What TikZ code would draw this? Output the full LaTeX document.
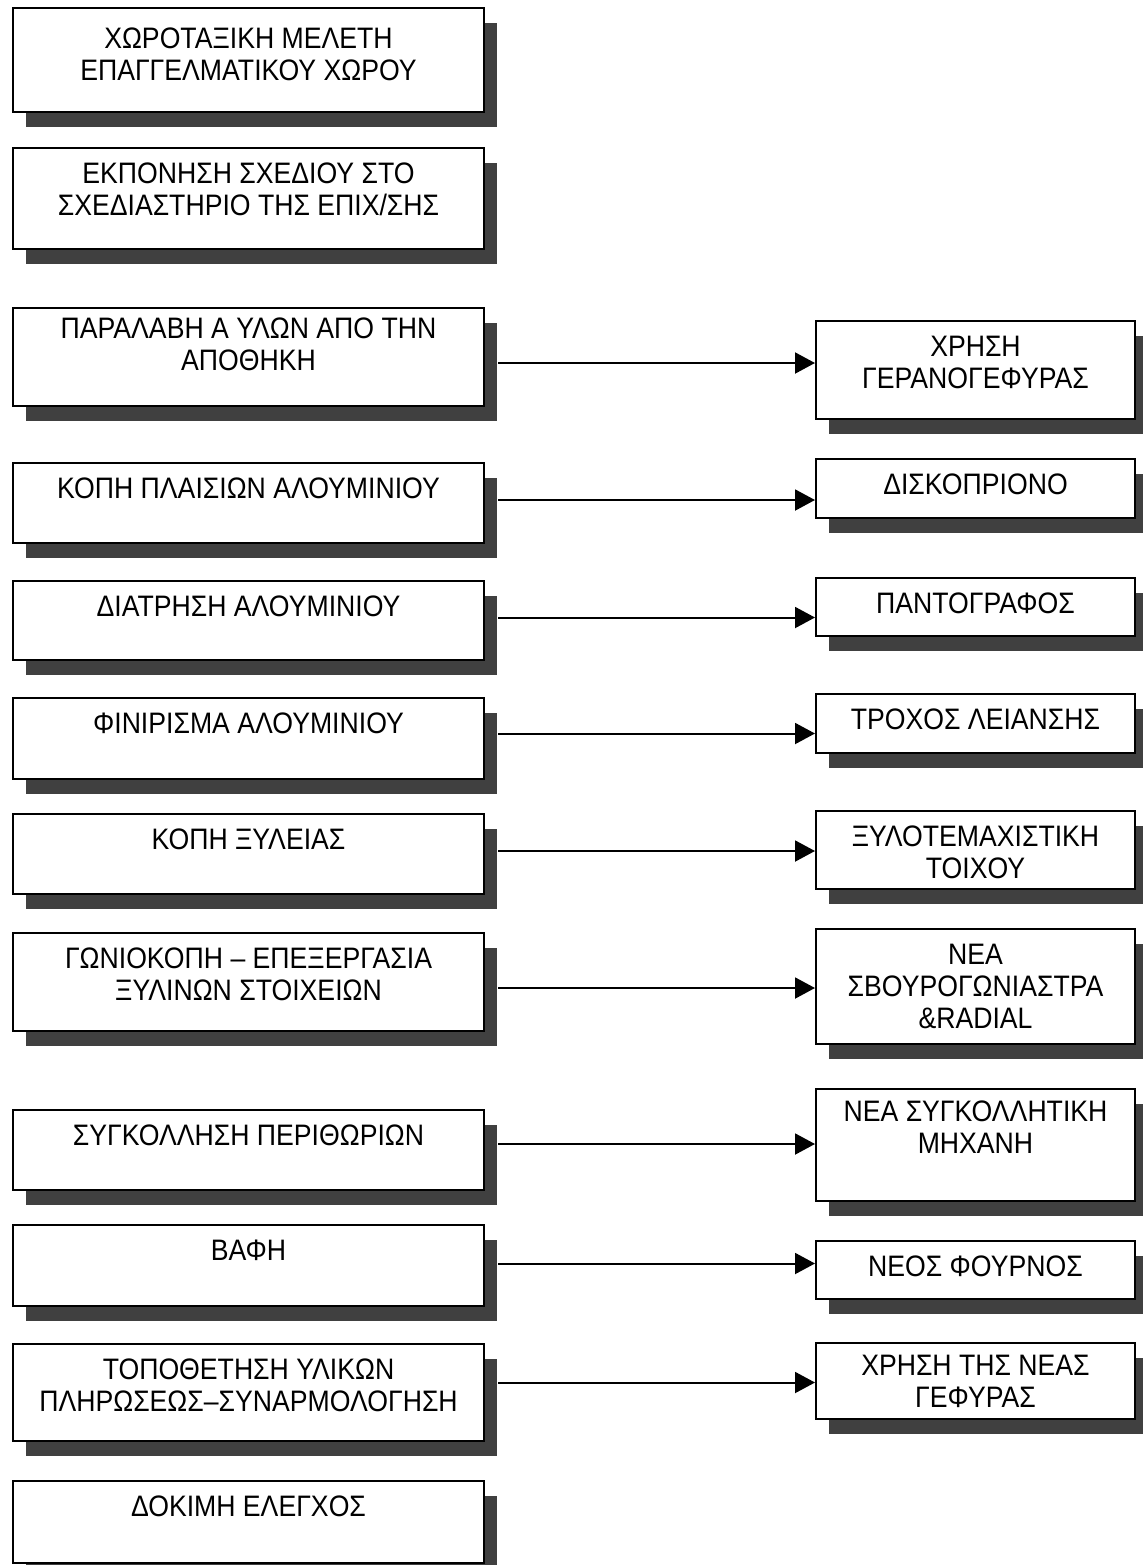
\documentclass[tikz,border=0pt]{standalone}
\usepackage{fontspec}
\setmainfont{Liberation Sans}[FakeStretch=0.9]
\usetikzlibrary{shadows}
\usetikzlibrary{arrows.meta}

\newcommand{\boxfont}{\fontsize{14.8pt}{16pt}\selectfont}

\begin{document}
\begin{tikzpicture}[x=0.5pt,y=-0.5pt,
  text pad/.store in=\textpad,text pad=7.5pt,
  step box/.style={rectangle,draw,line width=1pt,fill=white,inner sep=0pt,anchor=north west,
    drop shadow={shadow xshift=6.5pt,shadow yshift=-7.5pt,fill=black!75,opacity=1}},
  left box/.style={step box,
    execute at begin node={\begin{minipage}[t][#1][t]{235.5pt}\boxfont\centering\vspace*{\textpad}},
    execute at end node={\end{minipage}}},
  right box/.style={step box,
    execute at begin node={\begin{minipage}[t][#1][t]{159.5pt}\boxfont\centering\vspace*{\textpad}},
    execute at end node={\end{minipage}}},
  flow/.style={line width=1pt,-{Triangle[length=10pt,width=10.5pt]}}]

  \useasboundingbox (0,0) rectangle (1143,1565);

  \node[left box=52pt,text pad=10pt] (l1) at (12,7) {ΧΩΡΟΤΑΞΙΚΗ ΜΕΛΕΤΗ\\ΕΠΑΓΓΕΛΜΑΤΙΚΟΥ ΧΩΡΟΥ};
  \node[left box=50.5pt] (l2) at (12,147) {ΕΚΠΟΝΗΣΗ ΣΧΕΔΙΟΥ ΣΤΟ\\ΣΧΕΔΙΑΣΤΗΡΙΟ ΤΗΣ ΕΠΙΧ/ΣΗΣ};
  \node[left box=49pt,text pad=5pt] (l3) at (12,307) {ΠΑΡΑΛΑΒΗ Α ΥΛΩΝ ΑΠΟ ΤΗΝ\\ΑΠΟΘΗΚΗ};
  \node[left box=40pt] (l4) at (12,462) {ΚΟΠΗ ΠΛΑΙΣΙΩΝ ΑΛΟΥΜΙΝΙΟΥ};
  \node[left box=39.5pt] (l5) at (12,580) {ΔΙΑΤΡΗΣΗ ΑΛΟΥΜΙΝΙΟΥ};
  \node[left box=40.5pt] (l6) at (12,697) {ΦΙΝΙΡΙΣΜΑ ΑΛΟΥΜΙΝΙΟΥ};
  \node[left box=40pt] (l7) at (12,813) {ΚΟΠΗ ΞΥΛΕΙΑΣ};
  \node[left box=49pt] (l8) at (12,932) {ΓΩΝΙΟΚΟΠΗ – ΕΠΕΞΕΡΓΑΣΙΑ\\ΞΥΛΙΝΩΝ ΣΤΟΙΧΕΙΩΝ};
  \node[left box=40pt] (l9) at (12,1109) {ΣΥΓΚΟΛΛΗΣΗ ΠΕΡΙΘΩΡΙΩΝ};
  \node[left box=40.5pt] (l10) at (12,1224) {ΒΑΦΗ};
  \node[left box=48.5pt] (l11) at (12,1343) {ΤΟΠΟΘΕΤΗΣΗ ΥΛΙΚΩΝ\\ΠΛΗΡΩΣΕΩΣ–ΣΥΝΑΡΜΟΛΟΓΗΣΗ};
  \node[left box=41pt] (l12) at (12,1480) {ΔΟΚΙΜΗ ΕΛΕΓΧΟΣ};

  \node[right box=49pt] (r1) at (815,320) {ΧΡΗΣΗ\\ΓΕΡΑΝΟΓΕΦΥΡΑΣ};
  \node[right box=29.5pt] (r2) at (815,458) {ΔΙΣΚΟΠΡΙΟΝΟ};
  \node[right box=29pt] (r3) at (815,577) {ΠΑΝΤΟΓΡΑΦΟΣ};
  \node[right box=29.5pt] (r4) at (815,693) {ΤΡΟΧΟΣ ΛΕΙΑΝΣΗΣ};
  \node[right box=39pt] (r5) at (815,810) {ΞΥΛΟΤΕΜΑΧΙΣΤΙΚΗ\\ΤΟΙΧΟΥ};
  \node[right box=57.5pt] (r6) at (815,928) {ΝΕΑ\\ΣΒΟΥΡΟΓΩΝΙΑΣΤΡΑ\\\&RADIAL};
  \node[right box=56pt,text pad=6pt] (r7) at (815,1088) {ΝΕΑ ΣΥΓΚΟΛΛΗΤΙΚΗ\\ΜΗΧΑΝΗ};
  \node[right box=29pt] (r8) at (815,1240) {ΝΕΟΣ ΦΟΥΡΝΟΣ};
  \node[right box=38pt,text pad=6pt] (r9) at (815,1342) {ΧΡΗΣΗ ΤΗΣ ΝΕΑΣ\\ΓΕΦΥΡΑΣ};

  \foreach \a/\b/\dy in {l3/r1/-3,l4/r2/1.5,l5/r3/1.5,l6/r4/2.5,l7/r5/1.5,l8/r6/-3,l9/r7/3,l10/r8/1,l11/r9/5}{
    \path ([xshift=6.5pt,yshift=\dy pt]\a.east) coordinate (s\a);
    \draw[flow] (s\a) -- (s\a -| \b.west);
  }

\end{tikzpicture}
\end{document}
